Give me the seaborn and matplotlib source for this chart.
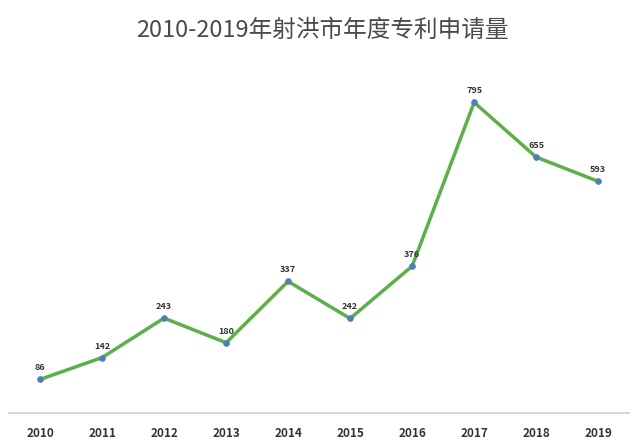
import matplotlib
matplotlib.use("Agg")
import matplotlib.pyplot as plt
import seaborn as sns
import pandas as pd

years = ["2010","2011","2012","2013","2014","2015","2016","2017","2018","2019"]
values = [86,142,243,180,337,242,376,795,655,593]

sns.set_theme(style="white")
plt.rcParams['font.family'] = ['Noto Sans CJK SC', 'DejaVu Sans']

fig = plt.figure(figsize=(6.44,4.48), dpi=100)
ax = fig.add_axes([0.014, 0.078, 0.963, 0.785])
df = pd.DataFrame({"x": range(len(years)), "y": values})
sns.lineplot(data=df, x="x", y="y", ax=ax, color="#5BB04A", linewidth=2.5,
             marker="o", markersize=4, markerfacecolor="#4F7FB5", markeredgecolor="#4F7FB5")
for i, v in enumerate(values):
    ax.text(i, v + 18, str(v), ha="center", va="bottom", fontsize=6.5, fontweight="bold", color="#333333")
ax.set_xlim(-0.5, 9.5)
ax.set_ylim(0, 900)
ax.set_xticks(range(len(years)))
ax.set_xticklabels(years, fontweight="bold", fontsize=8.5, color="#333333")
ax.set_yticks([])
ax.set_xlabel(""); ax.set_ylabel("")
for s in ["top","left","right"]:
    ax.spines[s].set_visible(False)
ax.spines["bottom"].set_color("#D0D0D0")
ax.tick_params(axis="x", length=0, pad=10)
fig.text(0.5, 0.932, "2010-2019年射洪市年度专利申请量", ha="center", va="center", fontsize=17, color="#4A4A4A")
fig.savefig("out.png", dpi=100)
